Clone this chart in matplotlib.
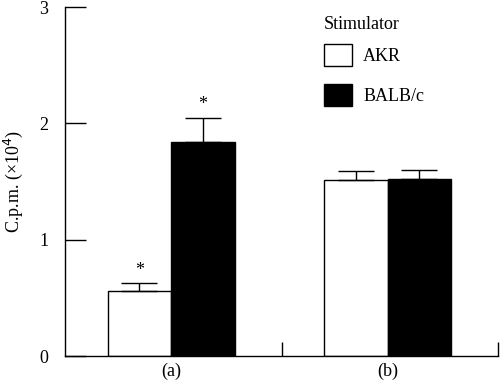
import numpy as np
import matplotlib.pyplot as plt
from matplotlib.ticker import FixedLocator

plt.rcParams['font.family'] = ['Liberation Serif', 'DejaVu Serif']

groups = ['(a)', '(b)']
akr_vals = [0.56, 1.51]
akr_err = [0.065, 0.08]
balb_vals = [1.84, 1.52]
balb_err = [0.21, 0.08]
akr_star = [True, False]
balb_star = [True, False]

fig = plt.figure(figsize=(5.0, 3.81), dpi=100)
ax = fig.add_axes([0.13, 0.0656, 0.866, 0.916])

x = np.arange(len(groups)) + 0.49
w = 0.293

ax.bar(x - w / 2, akr_vals, w, yerr=[np.zeros(2), akr_err], color='white',
       edgecolor='black', linewidth=1.0, label='AKR',
       error_kw=dict(ecolor='black', elinewidth=1.0, capsize=13, capthick=1.0))
ax.bar(x + w / 2, balb_vals, w, yerr=[np.zeros(2), balb_err], color='black',
       edgecolor='black', linewidth=1.0, label='BALB/c',
       error_kw=dict(ecolor='black', elinewidth=1.0, capsize=13, capthick=1.0))

for i in range(len(groups)):
    if akr_star[i]:
        ax.text(x[i] - w / 2, akr_vals[i] + akr_err[i] + 0.11, '*',
                ha='center', va='center', fontsize=13)
    if balb_star[i]:
        ax.text(x[i] + w / 2, balb_vals[i] + balb_err[i] + 0.11, '*',
                ha='center', va='center', fontsize=13)

ax.set_xlim(0, 2)
ax.set_ylim(0, 3)
ax.spines['top'].set_visible(False)
ax.spines['right'].set_visible(False)
for s in ['left', 'bottom']:
    ax.spines[s].set_linewidth(1.0)

ax.set_yticks([0, 1, 2, 3])
ax.tick_params(axis='y', direction='in', length=15, width=1.0, pad=12, labelsize=13)
ax.set_xticks(x)
ax.set_xticklabels(groups)
ax.tick_params(axis='x', which='major', length=0, pad=5, labelsize=13)
ax.xaxis.set_minor_locator(FixedLocator([1, 2]))
ax.tick_params(axis='x', which='minor', direction='in', length=10, width=1.0)

ax.set_ylabel('C.p.m. (×10$^4$)', fontsize=13, labelpad=10)

leg = ax.legend(title='Stimulator', loc='upper left', bbox_to_anchor=(0.582, 0.995),
                frameon=False, fontsize=13, title_fontsize=13, alignment='left',
                handlelength=1.55, handleheight=1.45, handletextpad=0.6,
                labelspacing=1.05, borderaxespad=0)
leg.get_title().set_ha('left')
leg._legend_box.sep = 8

fig.savefig('out.png', dpi=100)
